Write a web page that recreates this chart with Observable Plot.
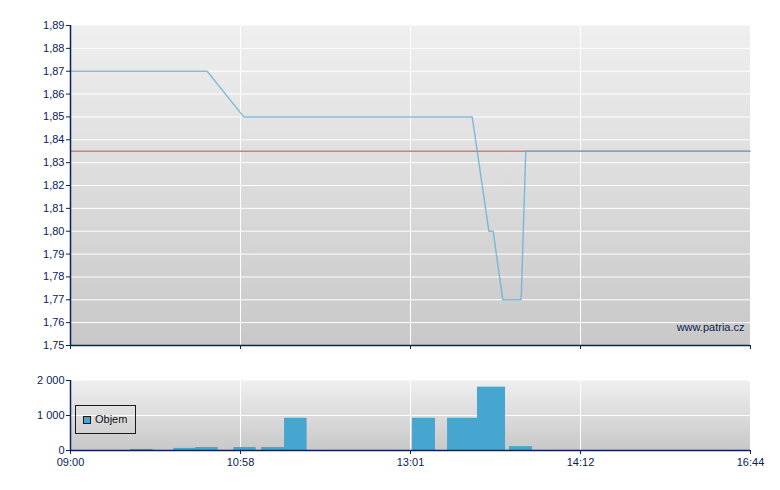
<!DOCTYPE html>
<html>
<head>
<meta charset="utf-8">
<script src="https://cdn.jsdelivr.net/npm/d3@7"></script>
<script src="https://cdn.jsdelivr.net/npm/@observablehq/plot@0.6"></script>
<style>
  html, body { margin: 0; padding: 0; background: #fff; }
  #wrap { position: relative; width: 780px; height: 490px; font-family: "Liberation Sans", Arial, sans-serif; }
  #wrap svg { position: absolute; left: 0; }
  #legend { position: absolute; left: 75px; top: 405px; width: 59px; height: 27px; border: 1px solid #1a1a1a; box-sizing: content-box; font-size: 11px; color: #111; }
  #legend .sw { position: absolute; left: 7px; top: 10px; width: 6px; height: 6px; border: 1px solid #1a1a1a; background: #47a6cf; }
  #legend .lb { position: absolute; left: 19px; top: 7px; }
</style>
</head>
<body>
<div id="wrap"></div>
<script>
// ---- data ----
const xLabels = ["09:00", "10:58", "13:01", "14:12", "16:44"];
const xTickPos = [0, 1, 2, 3, 4];
const priceX = [0, 0.804, 1.019, 2.363, 2.461, 2.486, 2.543, 2.651, 2.678, 4];
const priceY = [1.87, 1.87, 1.85, 1.85, 1.80, 1.80, 1.77, 1.77, 1.835, 1.835];
const refPrice = 1.835;
const yTicks = [1.75, 1.76, 1.77, 1.78, 1.79, 1.80, 1.81, 1.82, 1.83, 1.84, 1.85, 1.86, 1.87, 1.88, 1.89];
const barStart = [0.353, 0.608, 0.735, 0.961, 1.124, 1.259, 2.012, 2.218, 2.394, 2.582];
const barEnd   = [0.486, 0.735, 0.869, 1.092, 1.259, 1.392, 2.147, 2.394, 2.559, 2.718];
const volume   = [30, 60, 85, 85, 85, 920, 920, 920, 1810, 110];
const volTicks = [0, 1000, 2000];
const watermark = "www.patria.cz";
const legendLabel = "Objem";

// ---- styles ----
const navy = "#0b2257";
const priceData = priceX.map((x, i) => ({x, y: priceY[i]}));
const barData = barStart.map((s, i) => ({x1: s, x2: barEnd[i], v: volume[i]}));
const loc = d3.formatLocale({decimal: ",", thousands: " ", grouping: [3], currency: ["", ""]});
const fmtPrice = loc.format(".2f");
const fmtVol = loc.format(",d");

function addGradient(svg, id) {
  const ns = "http://www.w3.org/2000/svg";
  const defs = document.createElementNS(ns, "defs");
  const g = document.createElementNS(ns, "linearGradient");
  g.setAttribute("id", id);
  g.setAttribute("x1", "0"); g.setAttribute("y1", "0");
  g.setAttribute("x2", "0"); g.setAttribute("y2", "1");
  [["0", "#efefef"], ["1", "#c8c8c8"]].forEach(([o, c]) => {
    const s = document.createElementNS(ns, "stop");
    s.setAttribute("offset", o); s.setAttribute("stop-color", c);
    g.appendChild(s);
  });
  defs.appendChild(g);
  svg.insertBefore(defs, svg.firstChild);
  let fr = svg.querySelector('[aria-label="frame"]');
  if (fr && fr.tagName.toLowerCase() !== "rect") fr = fr.querySelector("rect");
  if (fr) fr.setAttribute("fill", `url(#${id})`);
}

const baseStyle = {fontFamily: "'Liberation Sans', Arial, sans-serif", fontSize: "11px", color: navy, background: "transparent", overflow: "visible"};

const main = Plot.plot({
  width: 780, height: 360,
  marginTop: 25, marginBottom: 15, marginLeft: 70, marginRight: 30,
  style: baseStyle,
  x: {domain: [0, 4], axis: null},
  y: {domain: [1.75, 1.89], axis: null},
  marks: [
    Plot.frame({fill: "#dddddd", stroke: null}),
    Plot.ruleY(yTicks.slice(1, -1), {stroke: "white", strokeWidth: 1}),
    Plot.ruleX(xTickPos.slice(1), {stroke: "white", strokeWidth: 1}),
    Plot.ruleY([refPrice], {stroke: "#d67c7c", strokeWidth: 1.5}),
    Plot.line(priceData, {x: "x", y: "y", stroke: "#62b0d6", strokeWidth: 1.4, strokeOpacity: 0.8, curve: "linear"}),
    Plot.text([watermark], {frameAnchor: "bottom-right", dx: -6, dy: -15, fill: navy, fontSize: 11}),
    Plot.ruleX([0], {stroke: navy, strokeWidth: 1.5}),
    Plot.ruleY([1.75], {stroke: navy, strokeWidth: 1.5}),
    Plot.axisY({ticks: yTicks, tickFormat: fmtPrice, tickSize: 4, tickPadding: 2, stroke: navy, fill: navy, label: null}),
    Plot.axisX({ticks: xTickPos, tickFormat: () => "", tickSize: 4, stroke: navy, label: null})
  ]
});
main.style.top = "0px";
addGradient(main, "gMain");

const vol = Plot.plot({
  width: 780, height: 130,
  marginTop: 20, marginBottom: 40, marginLeft: 70, marginRight: 30,
  style: baseStyle,
  x: {domain: [0, 4], axis: null},
  y: {domain: [0, 2000], axis: null},
  marks: [
    Plot.frame({fill: "#dddddd", stroke: null}),
    Plot.ruleY(volTicks.slice(1, -1), {stroke: "white", strokeWidth: 1}),
    Plot.ruleX(xTickPos.slice(1), {stroke: "white", strokeWidth: 1}),
    Plot.rectY(barData, {x1: "x1", x2: "x2", y: "v", fill: "#47a6cf"}),
    Plot.ruleX([0], {stroke: navy, strokeWidth: 1.5}),
    Plot.ruleY([0], {stroke: navy, strokeWidth: 1.5}),
    Plot.axisY({ticks: volTicks, tickFormat: fmtVol, tickSize: 4, tickPadding: 2, stroke: navy, fill: navy, label: null}),
    Plot.axisX({ticks: xTickPos, tickFormat: (d, i) => xLabels[i], tickSize: 4, tickPadding: 4, stroke: navy, fill: navy, label: null})
  ]
});
vol.style.top = "360px";
addGradient(vol, "gVol");

const wrap = document.getElementById("wrap");
wrap.appendChild(main);
wrap.appendChild(vol);

const lg = document.createElement("div");
lg.id = "legend";
lg.innerHTML = `<div class="sw"></div><div class="lb">${legendLabel}</div>`;
wrap.appendChild(lg);
</script>
</body>
</html>
